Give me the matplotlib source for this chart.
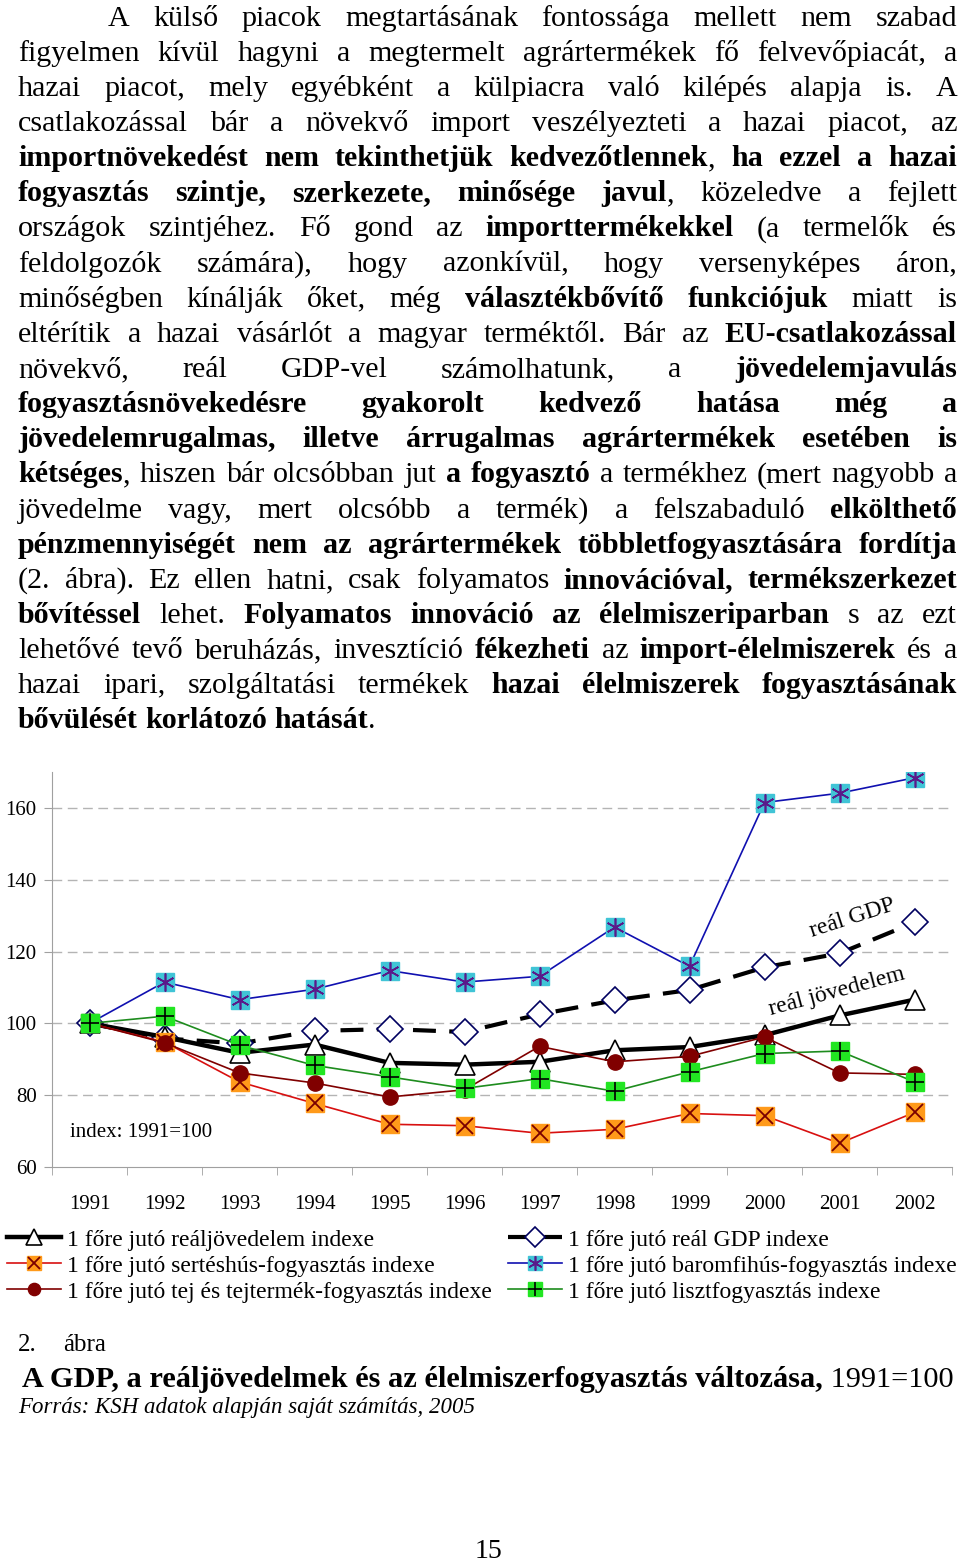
import matplotlib
matplotlib.use('Agg')
import matplotlib.pyplot as plt
from matplotlib.legend_handler import HandlerTuple
import numpy as np

plt.rcParams['font.family'] = ['Liberation Serif', 'DejaVu Serif']

# adatok (leolvasva az ábráról), 1991=100
years = [str(y) for y in range(1991, 2003)]
real_income = [100, 96.2, 91.8, 94.1, 89.0, 88.5, 89.3, 92.5, 93.4, 96.7, 102.2, 106.6]
real_gdp = [100, 95.8, 94.4, 97.9, 98.4, 97.6, 102.5, 106.4, 109.3, 115.6, 119.5, 128.1]
pork = [100, 94.8, 83.7, 77.7, 71.9, 71.5, 69.4, 70.5, 74.9, 74.3, 66.6, 75.2]
poultry = [100, 111.5, 106.6, 109.5, 114.7, 111.5, 113.1, 126.8, 115.9, 161.5, 164.1, 168.4]
milk = [100, 94.6, 86.2, 83.4, 79.5, 81.5, 93.6, 89.3, 90.8, 96.2, 86.2, 85.8]
flour = [100, 102.0, 93.9, 88.3, 85.1, 81.9, 84.6, 81.1, 86.5, 91.6, 92.3, 83.7]

legend_labels = [
    '1 főre jutó reáljövedelem indexe',
    '1 főre jutó sertéshús-fogyasztás indexe',
    '1 főre jutó tej és tejtermék-fogyasztás indexe',
    '1 főre jutó reál GDP indexe',
    '1 főre jutó baromfihús-fogyasztás indexe',
    '1 főre jutó lisztfogyasztás indexe',
]

# bekezdés sorai, ** = félkövér
paragraph = [
    "A külső piacok megtartásának fontossága mellett nem szabad",
    "figyelmen kívül hagyni a megtermelt agrártermékek fő felvevőpiacát, a",
    "hazai piacot, mely egyébként a külpiacra való kilépés alapja is. A",
    "csatlakozással bár a növekvő import veszélyezteti a hazai piacot, az",
    "**importnövekedést nem tekinthetjük kedvezőtlennek**, **ha ezzel a hazai**",
    "**fogyasztás szintje, szerkezete, minősége javul**, közeledve a fejlett",
    "országok szintjéhez. Fő gond az **importtermékekkel** (a termelők és",
    "feldolgozók számára), hogy azonkívül, hogy versenyképes áron,",
    "minőségben kínálják őket, még **választékbővítő funkciójuk** miatt is",
    "eltérítik a hazai vásárlót a magyar terméktől. Bár az **EU-csatlakozással**",
    "növekvő, reál GDP-vel számolhatunk, a **jövedelemjavulás**",
    "**fogyasztásnövekedésre gyakorolt kedvező hatása még a**",
    "**jövedelemrugalmas, illetve árrugalmas agrártermékek esetében is**",
    "**kétséges**, hiszen bár olcsóbban jut **a fogyasztó** a termékhez (mert nagyobb a",
    "jövedelme vagy, mert olcsóbb a termék) a felszabaduló **elkölthető**",
    "**pénzmennyiségét nem az agrártermékek többletfogyasztására fordítja**",
    "(2. ábra). Ez ellen hatni, csak folyamatos **innovációval, termékszerkezet**",
    "**bővítéssel** lehet. **Folyamatos innováció az élelmiszeriparban** s az ezt",
    "lehetővé tevő beruházás, invesztíció **fékezheti** az **import-élelmiszerek** és a",
    "hazai ipari, szolgáltatási termékek **hazai élelmiszerek fogyasztásának**",
    "**bővülését korlátozó hatását**.",
]

caption_num = '2.'
caption_word = 'ábra'
title_bold = 'A GDP, a reáljövedelmek és az élelmiszerfogyasztás változása,'
title_rest = ' 1991=100'
source = 'Forrás: KSH adatok alapján saját számítás, 2005'
page_no = '15'

W, H = 960, 1566
fig = plt.figure(figsize=(W / 100, H / 100), dpi=100)

# ---- diagram ----
ax = fig.add_axes([52 / W, 1 - 1167 / H, 900 / W, 395 / H])
x = np.arange(len(years))

h_gdp, = ax.plot(x, real_gdp, color='black', lw=3.0, dashes=(5.5, 3.2),
                 marker='D', ms=13, mfc='white', mec='#000060', mew=1.2, zorder=3)
h_inc, = ax.plot(x, real_income, color='black', lw=3.2, marker='^', ms=15,
                 mfc='white', mec='black', mew=1.2, zorder=3.1)

h_pork1, = ax.plot(x, pork, color='#D81010', lw=1.2, marker='s', ms=13,
                   mfc='#FF9A1A', mec='#FF9A1A', zorder=4)
h_pork2, = ax.plot(x, pork, ls='none', marker='x', ms=11, mec='#7A0000',
                   mew=1.3, zorder=4.01)
h_milk, = ax.plot(x, milk, color='#800000', lw=1.2, marker='o', ms=11,
                  mfc='#800000', mec='#800000', zorder=4.1)
h_poul1, = ax.plot(x, poultry, color='#1010B0', lw=1.2, marker='s', ms=13,
                   mfc='#40C4D6', mec='#40C4D6', zorder=4.2)
h_poul2, = ax.plot(x, poultry, ls='none', marker=(6, 2, 0), ms=13,
                   mec='#5A1A8A', mew=1.2, zorder=4.21)
h_fl1, = ax.plot(x, flour, color='#1E8C1E', lw=1.2, marker='s', ms=13,
                 mfc='#22E622', mec='#22E622', zorder=4.3)
h_fl2, = ax.plot(x, flour, ls='none', marker='+', ms=13, mec='black',
                 mew=1.2, zorder=4.31)

ax.set_xlim(-0.5, len(years) - 0.5)
ax.set_ylim(60, 170)
ax.set_yticks([60, 80, 100, 120, 140, 160])
ax.set_xticks(x, years)
ax.set_xticks(np.arange(-0.5, len(years), 1), minor=True)
for v in [80, 100, 120, 140, 160]:
    ax.axhline(v, color='#b4b4b4', lw=1, dashes=(7, 4), zorder=1)
ax.tick_params(axis='x', which='major', length=0, pad=20, labelsize=15)
ax.tick_params(axis='x', which='minor', length=6, color='#a0a0a0', direction='out')
ax.tick_params(axis='y', length=6, color='#a0a0a0', pad=5, labelsize=15)
for s in ['top', 'right']:
    ax.spines[s].set_visible(False)
for s in ['left', 'bottom']:
    ax.spines[s].set_color('#a0a0a0')

ax.text(10.17, 129.4, 'reál GDP', fontsize=17, rotation=18,
        ha='center', va='center', rotation_mode='anchor')
ax.text(9.97, 108.9, 'reál jövedelem', fontsize=17, rotation=15,
        ha='center', va='center', rotation_mode='anchor')
ax.text(-0.26, 69.7, 'index: 1991=100', fontsize=15, ha='left', va='center')

handles = [h_inc, (h_pork1, h_pork2), h_milk, h_gdp, (h_poul1, h_poul2), (h_fl1, h_fl2)]
ax.legend(handles, legend_labels, ncol=2, loc='upper left',
          bbox_to_anchor=(7 / W, 1 - 1229 / H), bbox_transform=fig.transFigure,
          frameon=False, borderpad=0, borderaxespad=0, fontsize=17,
          handlelength=2.3, handletextpad=0.25, columnspacing=0.66,
          labelspacing=0.19, markerscale=0.8,
          handler_map={tuple: HandlerTuple(ndivide=1)})

# ---- szöveg réteg, pixel koordinátákban ----
tx = fig.add_axes([0, 0, 1, 1])
tx.set_xlim(0, W)
tx.set_ylim(H, 0)
tx.axis('off')
renderer = fig.canvas.get_renderer()


def text_w(s, bold, size, style='normal'):
    t = tx.text(0, 0, s, fontsize=size, fontweight='bold' if bold else 'normal',
                fontstyle=style)
    w = t.get_window_extent(renderer).width
    t.remove()
    return w


def parse_words(line):
    words, cur = [], []
    for k, part in enumerate(line.split('**')):
        bold = k % 2 == 1
        for j, chunk in enumerate(part.split(' ')):
            if j > 0 and cur:
                words.append(cur)
                cur = []
            if chunk:
                cur.append((chunk, bold))
    if cur:
        words.append(cur)
    return words


def word_w(word, size):
    return sum(text_w(p, b, size) for p, b in word)


x_left, x_right = 18, 957
indent = 108
base_fs = 20.0
parsed = [parse_words(l) for l in paragraph]

# betűméret úgy, hogy minden sorkizárt sor elférjen
scale = 1.08
for i, words in enumerate(parsed[:-1]):
    start = indent if i == 0 else x_left
    ww = sum(word_w(w, base_fs) for w in words)
    need = ww + (len(words) - 1) * 0.22 * base_fs / 0.72
    scale = min(scale, (x_right - start) / need)
fs = base_fs * scale

space_w = text_w('a a', False, fs) - text_w('aa', False, fs)
baseline0, line_step = 25.5, 35.15
for i, words in enumerate(parsed):
    y = baseline0 + i * line_step
    start = indent if i == 0 else x_left
    widths = [word_w(w, fs) for w in words]
    if i < len(parsed) - 1 and len(words) > 1:
        gap = (x_right - start - sum(widths)) / (len(words) - 1)
    else:
        gap = space_w
    xp = start
    for w, wd in zip(words, widths):
        for p, b in w:
            tx.text(xp, y, p, fontsize=fs, fontweight='bold' if b else 'normal',
                    ha='left', va='baseline')
            xp += text_w(p, b, fs)
        xp += gap

# ---- ábra felirat ----
tx.text(18, 1351, caption_num, fontsize=18, ha='left', va='baseline')
tx.text(63, 1351, caption_word, fontsize=18, ha='left', va='baseline')

tfs = 19.5
tw = text_w(title_bold, True, tfs) + text_w(title_rest, False, tfs)
tfs = tfs * (933 / tw)
tx.text(22, 1387, title_bold, fontsize=tfs, fontweight='bold', ha='left', va='baseline')
tx.text(22 + text_w(title_bold, True, tfs), 1387, title_rest, fontsize=tfs,
        ha='left', va='baseline')
tx.text(18, 1413, source, fontsize=16.5, fontstyle='italic', ha='left', va='baseline')
tx.text(488, 1552, page_no, fontsize=20, ha='center', va='center')

fig.savefig('out.png', dpi=100)
